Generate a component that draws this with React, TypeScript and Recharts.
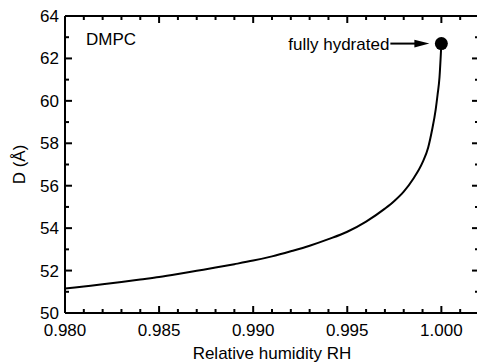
import React from 'react';
import { LineChart, Line, XAxis, YAxis, ReferenceDot } from 'recharts';

const rhValues = [
  0.980, 0.981, 0.982, 0.983, 0.984, 0.985, 0.986, 0.987, 0.988, 0.989,
  0.990, 0.991, 0.992, 0.993, 0.994, 0.995, 0.996, 0.997, 0.9975, 0.998,
  0.9985, 0.999, 0.9993, 0.9995, 0.9997, 0.9998, 0.9999, 1.000,
];
const dValues = [
  51.15, 51.25, 51.35, 51.46, 51.58, 51.70, 51.84, 51.99, 52.14, 52.30,
  52.47, 52.67, 52.91, 53.17, 53.48, 53.83, 54.31, 54.92, 55.28, 55.72,
  56.32, 57.1, 57.8, 58.6, 59.6, 60.3, 61.1, 62.7,
];

const xTicks = [
  0.980, 0.981, 0.982, 0.983, 0.984, 0.985, 0.986, 0.987, 0.988, 0.989,
  0.990, 0.991, 0.992, 0.993, 0.994, 0.995, 0.996, 0.997, 0.998, 0.999,
  1.000, 1.001, 1.002,
];
const xMajorTicks = [0.980, 0.985, 0.990, 0.995, 1.000];
const yTicks = [50, 51, 52, 53, 54, 55, 56, 57, 58, 59, 60, 61, 62, 63, 64];
const yMajorTicks = [50, 52, 54, 56, 58, 60, 62, 64];

const sampleLabel = 'DMPC';
const annotationText = 'fully hydrated';
const xTitle = 'Relative humidity RH';
const yTitle = 'D (Å)';

const data = rhValues.map((rh, i) => ({ rh, d: dValues[i] }));
const lastPoint = data[data.length - 1];

const FONT = '"Liberation Sans", Arial, sans-serif';
const FS = 17;

const isMajor = (list: number[], v: number) => list.some((m) => Math.abs(m - v) < 1e-9);

const BottomTick = (props: any) => {
  const { x, y, payload } = props;
  const major = isMajor(xMajorTicks, payload.value);
  return (
    <g>
      <line x1={x} x2={x} y1={y} y2={y - (major ? 7 : 4)} stroke="#000" strokeWidth={2} />
      {major && (
        <text x={x} y={y + 23} textAnchor="middle" fontSize={FS} fontFamily={FONT} fill="#000">
          {payload.value.toFixed(3)}
        </text>
      )}
    </g>
  );
};

const TopTick = (props: any) => {
  const { x, y, payload } = props;
  const major = isMajor(xMajorTicks, payload.value);
  return <line x1={x} x2={x} y1={y} y2={y + (major ? 7 : 4)} stroke="#000" strokeWidth={2} />;
};

const LeftTick = (props: any) => {
  const { x, y, payload } = props;
  const major = isMajor(yMajorTicks, payload.value);
  return (
    <g>
      <line x1={x} x2={x + (major ? 7 : 4)} y1={y} y2={y} stroke="#000" strokeWidth={2} />
      {major && (
        <text x={x - 6} y={y + 6} textAnchor="end" fontSize={FS} fontFamily={FONT} fill="#000">
          {payload.value}
        </text>
      )}
    </g>
  );
};

const RightTick = (props: any) => {
  const { x, y, payload } = props;
  const major = isMajor(yMajorTicks, payload.value);
  return <line x1={x} x2={x - (major ? 7 : 4)} y1={y} y2={y} stroke="#000" strokeWidth={2} />;
};

const centerOf = (vb: any) => {
  if (vb && vb.cx !== undefined) return { cx: vb.cx, cy: vb.cy };
  return { cx: vb.x + (vb.width || 0) / 2, cy: vb.y + (vb.height || 0) / 2 };
};

const HydratedLabel = (props: any) => {
  const { cx, cy } = centerOf(props.viewBox);
  const tip = cx - 12;
  return (
    <g>
      <text x={cx - 52} y={cy + 6} textAnchor="end" fontSize={FS} fontFamily={FONT} fill="#000">
        {annotationText}
      </text>
      <line x1={cx - 51} x2={tip - 14} y1={cy} y2={cy} stroke="#000" strokeWidth={2} />
      <polygon points={`${tip},${cy} ${tip - 15},${cy - 3.8} ${tip - 15},${cy + 3.8}`} fill="#000" />
    </g>
  );
};

const SampleLabel = (props: any) => {
  const { cx, cy } = centerOf(props.viewBox);
  return (
    <text x={cx + 21} y={cy + 29} fontSize={FS} fontFamily={FONT} fill="#000">
      {sampleLabel}
    </text>
  );
};

export default function App() {
  return (
    <div style={{ position: 'absolute', left: 0, top: 0, width: 477, height: 362, overflow: 'hidden', background: '#fff' }}>
      <LineChart width={480} height={362} data={data} margin={{ top: 0, right: 0, bottom: 0, left: 0 }}>
        <XAxis
          xAxisId="bottom"
          dataKey="rh"
          type="number"
          domain={[0.98, 1.002]}
          allowDataOverflow
          ticks={xTicks}
          interval={0}
          height={49}
          tickSize={0}
          tickMargin={0}
          tickLine={false}
          axisLine={{ stroke: '#000', strokeWidth: 2 }}
          tick={<BottomTick />}
          label={{ value: xTitle, position: 'center', dy: 15, fontSize: FS, fontFamily: FONT, fill: '#000' }}
        />
        <XAxis
          xAxisId="top"
          orientation="top"
          dataKey="rh"
          type="number"
          domain={[0.98, 1.002]}
          allowDataOverflow
          ticks={xTicks}
          interval={0}
          height={16}
          tickSize={0}
          tickMargin={0}
          tickLine={false}
          axisLine={{ stroke: '#000', strokeWidth: 2 }}
          tick={<TopTick />}
        />
        <YAxis
          yAxisId="left"
          type="number"
          domain={[50, 64]}
          allowDataOverflow
          ticks={yTicks}
          interval={0}
          width={65}
          tickSize={0}
          tickMargin={0}
          tickLine={false}
          axisLine={{ stroke: '#000', strokeWidth: 2 }}
          tick={<LeftTick />}
          label={{ value: yTitle, angle: -90, position: 'center', dx: -14, fontSize: FS, fontFamily: FONT, fill: '#000' }}
        />
        <YAxis
          yAxisId="right"
          orientation="right"
          type="number"
          domain={[50, 64]}
          allowDataOverflow
          ticks={yTicks}
          interval={0}
          width={1}
          tickSize={0}
          tickMargin={0}
          tickLine={false}
          axisLine={{ stroke: '#000', strokeWidth: 2 }}
          tick={<RightTick />}
        />
        <Line
          xAxisId="top"
          yAxisId="right"
          dataKey="d"
          stroke="none"
          dot={false}
          activeDot={false}
          isAnimationActive={false}
        />
        <Line
          xAxisId="bottom"
          yAxisId="left"
          type="monotone"
          dataKey="d"
          stroke="#000"
          strokeWidth={2}
          dot={false}
          activeDot={false}
          isAnimationActive={false}
        />
        <ReferenceDot
          xAxisId="bottom"
          yAxisId="left"
          x={lastPoint.rh}
          y={lastPoint.d}
          r={6.5}
          fill="#000"
          stroke="none"
          label={<HydratedLabel />}
        />
        <ReferenceDot
          xAxisId="bottom"
          yAxisId="left"
          x={rhValues[0]}
          y={yTicks[yTicks.length - 1]}
          r={0}
          fill="none"
          stroke="none"
          label={<SampleLabel />}
        />
      </LineChart>
    </div>
  );
}
